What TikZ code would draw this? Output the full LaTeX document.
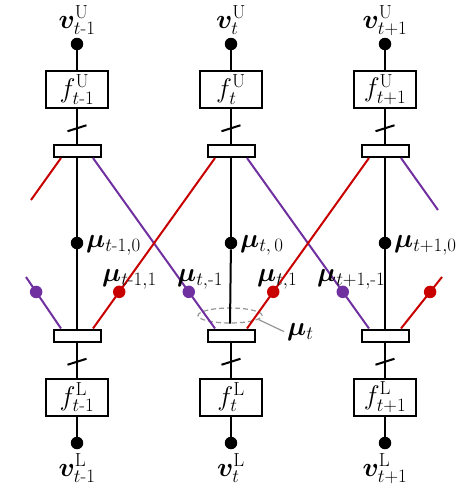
\RequirePackage{fix-cm}
\documentclass[tikz,border=0pt]{standalone}
\usepackage{amsmath,bm}
\usetikzlibrary{shapes.geometric}
\definecolor{myred}{RGB}{200,0,0}
\definecolor{mypurple}{RGB}{112,48,160}
\definecolor{mygray}{RGB}{150,150,150}
\newcommand{\mm}{\text{-}}
\begin{document}
\begin{tikzpicture}[x=1pt,y=-1pt,
  every node/.style={font=\fontsize{27}{32}\selectfont, inner sep=0pt},
  blk/.style={line width=2pt},
  fbox/.style={draw, line width=2pt, minimum width=62pt, minimum height=37pt},
  barbox/.style={draw, line width=2pt, minimum width=47pt, minimum height=12pt},
  dotk/.style={circle, fill=black, minimum size=12.5pt},
  dotr/.style={circle, fill=myred, minimum size=12.5pt},
  dotp/.style={circle, fill=mypurple, minimum size=12.5pt},
  redl/.style={draw=myred, line width=2pt},
  purl/.style={draw=mypurple, line width=2pt},
  lbl/.style={anchor=base west},
  tick/.style={line width=2pt},
]
\useasboundingbox (0,0) rectangle (466,491);

% columns
\foreach \i/\c/\s in {1/77/{t\mm1}, 2/231/{t}, 3/385/{t+1}} {
  \node[dotk] (vu\i) at (\c,44) {};
  \node[anchor=base] (lvu\i) at (\c,28) {$\bm{v}^{\mathrm{U}}_{\s}$};
  \node[fbox] (fu\i) at (\c,89.5) {$f^{\mathrm{U}}_{\s}$};
  \node[barbox] (bu\i) at (\c,151) {};
  \node[dotk] (m\i) at (\c,243) {};
  \node[barbox] (bl\i) at (\c,335.5) {};
  \node[fbox] (fl\i) at (\c,397) {$f^{\mathrm{L}}_{\s}$};
  \node[dotk] (vl\i) at (\c,443) {};
  \node[anchor=base] (lvl\i) at (\c,476) {$\bm{v}^{\mathrm{L}}_{\s}$};
  \draw[blk] (vu\i) -- (fu\i);
  \draw[blk] (fu\i) -- (bu\i) coordinate[pos=0.55] (tu\i);
  \draw[tick] ([shift={(-9.5,3)}]tu\i) -- ([shift={(9.5,-3)}]tu\i);
  \draw[blk] (bu\i) -- (m\i);
  \draw[blk] (bl\i) -- (fl\i) coordinate[pos=0.55] (tl\i);
  \draw[tick] ([shift={(-9.5,3)}]tl\i) -- ([shift={(9.5,-3)}]tl\i);
  \draw[blk] (fl\i) -- (vl\i);
}

% ellipse mu_t
\node[ellipse, draw=mygray, line width=1.2pt, dash pattern=on 5pt off 3pt,
      minimum width=64pt, minimum height=15pt] (el) at (230,315.5) {};

\draw[blk] (m1) -- (bl1);
\draw[blk] (m2) -- (el.south);
\draw[blk] (m3) -- (bl3);

% purple lines (upper right -> next lower left)
\draw[purl] ([xshift=16pt]bu1.south) -- ([xshift=-16pt]bl2.north) node[pos=0.785, dotp] (p2) {};
\draw[purl] ([xshift=16pt]bu2.south) -- ([xshift=-16pt]bl3.north) node[pos=0.785, dotp] (p3) {};
% red lines (lower right -> next upper left)
\draw[redl] ([xshift=16pt]bl1.north) -- ([xshift=-16pt]bu2.south) node[pos=0.215, dotr] (r1) {};
\draw[redl] ([xshift=16pt]bl2.north) -- ([xshift=-16pt]bu3.south) node[pos=0.215, dotr] (r2) {};

% stubs
\coordinate (sp) at (26,277);
\coordinate (sr) at (31,200);
\coordinate (ep) at (438,210);
\coordinate (er) at (442,277);
\draw[purl] ([xshift=-16pt]bl1.north) -- (sp) node[pos=0.71, dotp] (p1) {};
\draw[redl] ([xshift=-16pt]bu1.south) -- (sr);
\draw[purl] ([xshift=16pt]bu3.south) -- (ep);
\draw[redl] ([xshift=16pt]bl3.north) -- (er) node[pos=0.71, dotr] (r3) {};

% labels
\node[lbl] (lm1) at (86,247) {$\bm{\mu}_{t\mm1,0}$};
\node[lbl] (lm2) at (240,247) {$\bm{\mu}_{t,\,0}$};
\node[lbl] (lm3) at (394,247) {$\bm{\mu}_{t+1,0}$};
\node[lbl] (lr1) at (102,281) {$\bm{\mu}_{t\mm1,1}$};
\node[lbl] (lp2) at (177,281) {$\bm{\mu}_{t,\mm1}$};
\node[lbl] (lr2) at (257,281) {$\bm{\mu}_{t,1}$};
\node[lbl] (lp3) at (317,281) {$\bm{\mu}_{t+1,\mm1}$};
\node[lbl] (mut) at (287,335) {$\bm{\mu}_{t}$};
\draw[mygray, line width=1.2pt] (el.-8) -- ([xshift=-3pt]mut.west);
\end{tikzpicture}
\end{document}
